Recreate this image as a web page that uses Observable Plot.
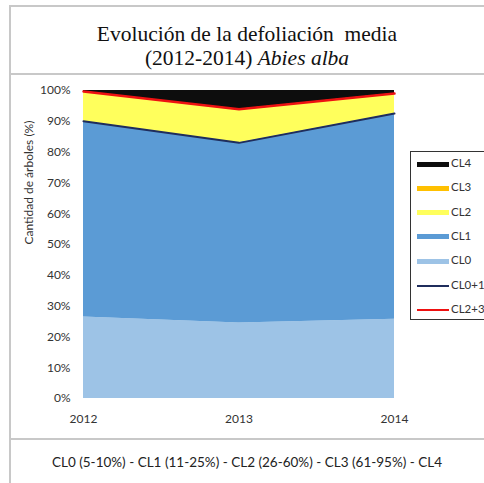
<!DOCTYPE html>
<html><head><meta charset="utf-8">
<script src="https://cdn.jsdelivr.net/npm/d3@7"></script>
<script src="https://cdn.jsdelivr.net/npm/@observablehq/plot@0.6"></script>
<style>
html,body{margin:0;padding:0;background:#fff;}
#wrap{position:relative;width:484px;height:483px;overflow:hidden;font-family:Lato,"Open Sans",sans-serif;}
.hl{position:absolute;height:2px;background:#c8c8c8;}
.vl{position:absolute;width:2px;background:#c8c8c8;}
#title{position:absolute;left:10px;width:474px;top:22px;text-align:center;font-family:"Liberation Serif",serif;font-size:21.5px;line-height:24px;color:#111;}
#plot{position:absolute;left:0;top:75px;}
#legend{position:absolute;left:410px;top:151px;width:90px;height:169px;border:1px solid #333;background:#fff;box-sizing:border-box;}
.li{position:absolute;left:6px;font-size:11.5px;color:#333;}
.sw{position:absolute;left:0;width:32px;}
.lt{position:absolute;left:34px;top:-8px;white-space:nowrap;}
#caption{position:absolute;left:10px;width:474px;top:454px;text-align:center;font-size:13.5px;color:#222;font-family:Lato,sans-serif;}
</style></head>
<body><div id="wrap">
<div class="hl" style="left:9px;top:5px;width:475px"></div>
<div class="vl" style="left:9px;top:5px;height:478px"></div>
<div class="hl" style="left:9px;top:73px;width:475px"></div>
<div class="hl" style="left:9px;top:438px;width:475px"></div>
<div id="title">Evolución de la defoliación&nbsp; media<br>(2012-2014) <i>Abies alba</i></div>
<div id="plot"></div>
<div id="legend"></div>
<div id="caption">CL0 (5-10%) - CL1 (11-25%) - CL2 (26-60%) - CL3 (61-95%) - CL4</div>
</div>
<script>
const years = [2012, 2013, 2014];
const classes = ["CL0", "CL1", "CL2", "CL3", "CL4"];
const cl0 = [26.5, 24.5, 25.7];
const cl1 = [63.5, 58.5, 66.8];
const cl2 = [9.4, 10.5, 6.3];
const cl3 = [0.3, 0.4, 0.2];
const cl4 = [0.3, 6.1, 1.0];
const colors = ["#9dc3e6", "#5b9bd5", "#ffff5c", "#ffc000", "#0d0d0d"];
const yTicks = [0, 10, 20, 30, 40, 50, 60, 70, 80, 90, 100];
const lineNames = ["CL0+1", "CL2+3"];
const lineColors = ["#1f2d5c", "#ee1111"];

const series = [cl0, cl1, cl2, cl3, cl4];
const rows = [];
classes.forEach((c, i) => years.forEach((y, j) => rows.push({year: y, cls: c, value: series[i][j]})));
const lineRows = [];
years.forEach((y, j) => {
  lineRows.push({year: y, name: "CL0+1", value: cl0[j] + cl1[j]});
  lineRows.push({year: y, name: "CL2+3", value: cl0[j] + cl1[j] + cl2[j] + cl3[j]});
});

const chart = Plot.plot({
  width: 484, height: 364,
  marginLeft: 83, marginRight: 90, marginTop: 15, marginBottom: 41,
  style: {fontFamily: "Lato, sans-serif", fontSize: "12px", color: "#333"},
  x: {domain: [2012, 2014], ticks: years, tickFormat: d => String(d), tickSize: 0, tickPadding: 16, label: null},
  y: {domain: [0, 100], ticks: yTicks, tickFormat: d => d + "%", tickSize: 0, tickPadding: 13, label: null},
  color: {domain: classes, range: colors},
  marks: [
    Plot.areaY(rows, {x: "year", y: "value", fill: "cls", order: classes, z: "cls"}),
    Plot.line(lineRows, {filter: d => d.name === "CL0+1", x: "year", y: "value", stroke: lineColors[0], strokeWidth: 2}),
    Plot.line(lineRows, {filter: d => d.name === "CL2+3", x: "year", y: "value", stroke: lineColors[1], strokeWidth: 2.5}),
    Plot.text(["Cantidad de árboles (%)"], {frameAnchor: "left", dx: -54, rotate: -90, fontSize: 12, fill: "#333"})
  ]
});
document.getElementById("plot").appendChild(chart);

// legend
const leg = document.getElementById("legend");
const items = [
  ...classes.slice().reverse().map(c => ({name: c, color: colors[classes.indexOf(c)], h: 5})),
  ...lineNames.map((n, i) => ({name: n, color: lineColors[i], h: 2}))
];
items.forEach((it, i) => {
  const d = document.createElement("div");
  d.className = "li";
  d.style.top = (12 + i * 24.3) + "px";
  d.innerHTML = `<div class="sw" style="top:${-it.h/2}px;height:${it.h}px;background:${it.color}"></div><div class="lt">${it.name}</div>`;
  leg.appendChild(d);
});
</script>
</body></html>
